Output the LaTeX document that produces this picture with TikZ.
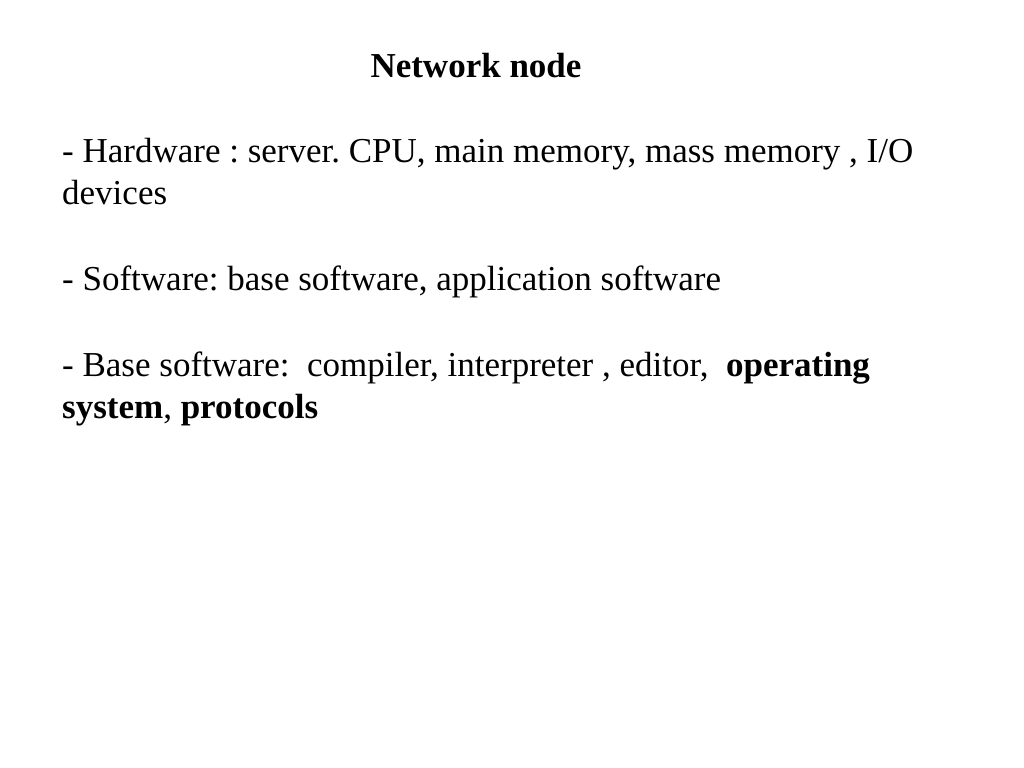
\documentclass[tikz,border=0pt]{standalone}
\usepackage{fontspec}
\setmainfont{Liberation Serif}
\frenchspacing
\begin{document}
\begin{tikzpicture}[x=1bp,y=1bp,txt/.style={anchor=base west,inner sep=0pt,font=\fontsize{35bp}{42bp}\selectfont}]
\useasboundingbox (0,0) rectangle (1024,768);
\fill[white] (0,0) rectangle (1024,768);
\node[txt,anchor=base] (title) at (476,690) {\textbf{Network node}};
\node[txt] (hw1) at (62,605) {- Hardware : server. CPU, main memory, mass memory , I/O};
\node[txt] (hw2) at (62,563) {devices};
\node[txt] (sw) at (62,477) {- Software: base software, application software};
\node[txt] (bs1) at (62,391) {- Base software:\ \ compiler, interpreter , editor,\ \ \textbf{operating}};
\node[txt] (bs2) at (62,349) {\textbf{system}, \textbf{protocols}};
\end{tikzpicture}
\end{document}
